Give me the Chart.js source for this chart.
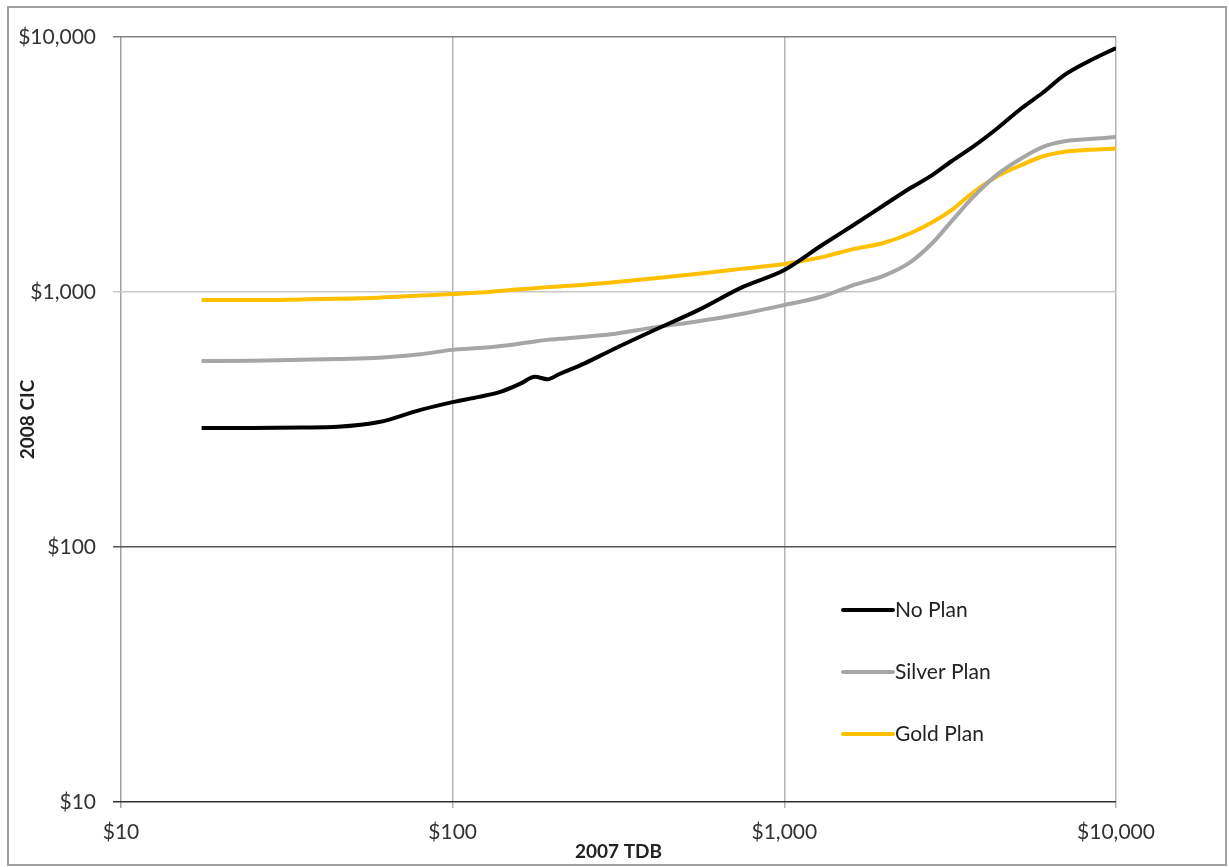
<!DOCTYPE html>
<html>
<head>
<meta charset="utf-8">
<script src="https://cdn.jsdelivr.net/npm/chart.js@4/dist/chart.umd.min.js"></script>
<style>
  html, body { margin: 0; padding: 0; background: #fff; }
  #wrap { width: 1229px; height: 867px; position: relative; }
</style>
</head>
<body>
<div id="wrap"><canvas id="c" width="1229" height="867"></canvas></div>
<script>
// 2007 TDB (x) sample points
const tdb = [17.5, 25, 35, 45, 60, 80, 100, 120, 140, 160, 177, 193, 210, 250, 300, 400, 550, 750,
             1000, 1300, 1600, 2000, 2400, 2800, 3200, 3700, 4400, 5200, 6000, 7000, 8300, 10000];

// 2008 CIC for each plan
const noPlan = [293, 293, 294, 296, 309, 345, 370, 388, 407, 437, 465, 455, 477, 525, 590, 703, 849, 1047,
                1220, 1528, 1815, 2193, 2557, 2880, 3264, 3705, 4397, 5268, 6030, 7100, 8050, 9060];
const silverPlan = [536, 538, 542, 546, 552, 570, 593, 603, 614, 628, 640, 649, 655, 668, 683, 725, 768, 822,
                    889, 960, 1060, 1160, 1310, 1560, 1900, 2350, 2900, 3350, 3700, 3900, 3980, 4050];
const goldPlan = [930, 930, 935, 940, 950, 968, 982, 995, 1009, 1025, 1035, 1045, 1052, 1068, 1090, 1130, 1180, 1235,
                  1288, 1370, 1470, 1560, 1700, 1880, 2100, 2450, 2850, 3150, 3400, 3550, 3610, 3650];

const seriesNames = ['No Plan', 'Silver Plan', 'Gold Plan'];
const seriesColors = ['#000000', '#a6a6a6', '#ffc000'];

// Decade ticks shared by both log axes
const tickValues = [10, 100, 1000, 10000];

const fmt = v => '$' + Number(v).toLocaleString('en-US');

const toPoints = ys => tdb.map((x, i) => ({ x: x, y: ys[i] }));

const FONT = 'Lato, "Open Sans", sans-serif';

// Frame around the whole chart
const framePlugin = {
  id: 'frame',
  beforeDraw(chart) {
    const ctx = chart.ctx;
    ctx.save();
    ctx.fillStyle = '#ffffff';
    ctx.fillRect(0, 0, chart.width, chart.height);
    ctx.strokeStyle = '#a0a0a0';
    ctx.lineWidth = 2;
    ctx.strokeRect(8, 7, 1218, 858);
    ctx.restore();
  }
};

// Legend drawn inside the plot area, lower right
const insideLegend = {
  id: 'insideLegend',
  afterDraw(chart) {
    const ctx = chart.ctx;
    const x0 = 843, x1 = 893, ys = [610, 672, 734];
    ctx.save();
    chart.data.datasets.forEach((ds, i) => {
      ctx.strokeStyle = ds.borderColor;
      ctx.lineWidth = 4;
      ctx.lineCap = 'round';
      ctx.beginPath();
      ctx.moveTo(x0, ys[i]);
      ctx.lineTo(x1, ys[i]);
      ctx.stroke();
      ctx.fillStyle = '#222222';
      ctx.font = '21px ' + FONT;
      ctx.textBaseline = 'middle';
      ctx.textAlign = 'left';
      ctx.fillText(ds.label, x1 + 2, ys[i]);
    });
    ctx.restore();
  }
};

const gridColorY = ctx => {
  const v = ctx.tick && ctx.tick.value;
  if (v === 10) return '#333333';
  if (v === 100) return '#555555';
  if (v === 10000) return '#808080';
  return '#c8c8c8';
};
const gridColorX = ctx => {
  const v = ctx.tick && ctx.tick.value;
  if (v === 10) return '#a0a0a0';
  return '#b4b4b4';
};

new Chart(document.getElementById('c'), {
  type: 'line',
  data: {
    datasets: [noPlan, silverPlan, goldPlan].map((ys, i) => ({
      label: seriesNames[i],
      data: toPoints(ys),
      borderColor: seriesColors[i],
      backgroundColor: seriesColors[i],
      borderWidth: 4,
      pointRadius: 0,
      cubicInterpolationMode: 'monotone',
      fill: false
    }))
  },
  plugins: [framePlugin, insideLegend],
  options: {
    responsive: false,
    animation: false,
    layout: { padding: { left: 0, top: 37, right: 113, bottom: 0 } },
    plugins: {
      legend: { display: false },
      tooltip: { enabled: false }
    },
    scales: {
      x: {
        type: 'logarithmic',
        min: 10,
        max: 10000,
        afterBuildTicks: s => { s.ticks = tickValues.map(v => ({ value: v })); },
        afterFit: s => { s.height = 65; },
        border: { display: false },
        grid: { color: gridColorX, lineWidth: 1.5, tickLength: 6, drawTicks: true },
        ticks: {
          callback: v => fmt(v),
          padding: 12,
          maxRotation: 0,
          color: '#333333',
          font: { family: FONT, size: 21 }
        },
        title: {
          display: true,
          text: '2007 TDB',
          color: '#222222',
          padding: { top: 0, bottom: 4 },
          font: { family: FONT, size: 19, weight: 'bold' }
        }
      },
      y: {
        type: 'logarithmic',
        min: 10,
        max: 10000,
        afterBuildTicks: s => { s.ticks = tickValues.map(v => ({ value: v })); },
        afterFit: s => { s.width = 121; },
        border: { display: false },
        grid: { color: gridColorY, lineWidth: 1.5, tickLength: 8, drawTicks: true },
        ticks: {
          callback: v => fmt(v),
          padding: 17,
          color: '#333333',
          font: { family: FONT, size: 21 }
        },
        title: {
          display: true,
          text: '2008 CIC',
          color: '#222222',
          padding: { top: 16, bottom: 0 },
          font: { family: FONT, size: 19, weight: 'bold' }
        }
      }
    }
  }
});
</script>
</body>
</html>
